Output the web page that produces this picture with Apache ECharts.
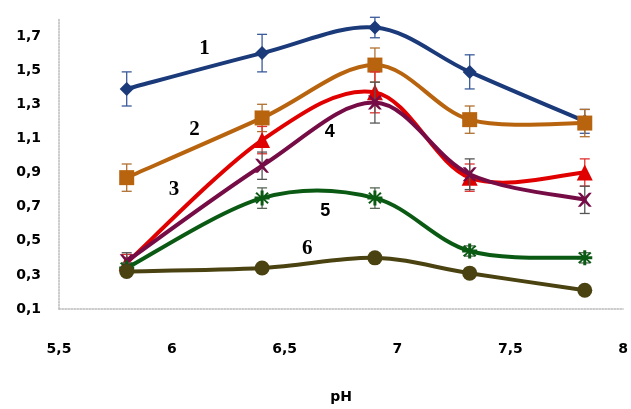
<!DOCTYPE html>
<html><head><meta charset="utf-8">
<script src="https://cdn.jsdelivr.net/npm/echarts@6/dist/echarts.min.js"></script>
<style>html,body{margin:0;padding:0;background:#fff}#c{width:631px;height:409px}</style>
</head><body><div id="c"></div>
<script>
const pH = [5.8, 6.4, 6.9, 7.32, 7.83];
const s1 = [1.39, 1.60, 1.75, 1.49, 1.20];
const s2 = [0.87, 1.22, 1.53, 1.21, 1.19];
const s3 = [0.37, 1.09, 1.37, 0.87, 0.90];
const s4 = [0.38, 0.94, 1.31, 0.89, 0.74];
const s5 = [0.34, 0.75, 0.75, 0.44, 0.40];
const s6 = [0.32, 0.34, 0.40, 0.31, 0.21];
const e1 = [0.10, 0.11, 0.06, 0.10, 0.07];
const e2 = [0.08, 0.08, 0.10, 0.08, 0.08];
const e3 = [0.05, 0.08, 0.12, 0.08, 0.08];
const e4 = [0.05, 0.08, 0.12, 0.09, 0.08];
const e5 = [0.03, 0.06, 0.06, 0.03, 0.03];
const e6 = [0.02, 0.02, 0.02, 0.02, 0.02];
const curveLabels = ['1','2','3','4','5','6'];
const labelPos = [[6.145,1.627],[6.10,1.15],[6.01,0.80],[6.70,1.14],[6.68,0.676],[6.60,0.457]];

const colors = ['#1B3A7A','#B8640F','#E00000','#760C46','#0B5A14','#4A4210'];
const barColors = ['#3A5A9A','#B07030','#E03030','#555555','#556655','#4A4210'];
const symbols = ['diamond','rect','triangle',
  'path://M0,0L2,0L5,3L8,0L10,0L6,5L10,10L8,10L5,7L2,10L0,10L4,5Z',
  'path://M4,0L6,0L6,3.5L8.5,1L9.5,2L7,4L10,4L10,6L7,6L9.5,8L8.5,9L6,6.5L6,10L4,10L4,6.5L1.5,9L0.5,8L3,6L0,6L0,4L3,4L0.5,2L1.5,1L4,3.5Z',
  'circle'];
const symSizes = [14, 15, 16, 14, 15, 15];
const vals = [s1,s2,s3,s4,s5,s6];
const errs = [e1,e2,e3,e4,e5,e6];

const series = [];
vals.forEach((v, i) => {
  series.push({
    type: 'custom',
    z: 2 + i * 3,
    silent: true,
    data: pH.slice(0, -1).map((x, k) => [x, v[k], pH[k + 1], v[k + 1]]),
    renderItem: function (params, api) {
      const k = params.dataIndex, n = pH.length;
      const P = j => api.coord([pH[j], v[j]]);
      const p0 = P(Math.max(k - 1, 0)), p1 = P(k), p2 = P(k + 1), p3 = P(Math.min(k + 2, n - 1));
      const t = 1 / 6;
      return {
        type: 'bezierCurve',
        shape: {
          x1: p1[0], y1: p1[1], x2: p2[0], y2: p2[1],
          cpx1: p1[0] + (p2[0] - p0[0]) * t, cpy1: p1[1] + (p2[1] - p0[1]) * t,
          cpx2: p2[0] - (p3[0] - p1[0]) * t, cpy2: p2[1] - (p3[1] - p1[1]) * t
        },
        style: { stroke: colors[i], lineWidth: 4, fill: null, lineCap: 'round' }
      };
    }
  });
  series.push({
    type: 'custom',
    z: 3 + i * 3,
    silent: true,
    data: pH.map((x, k) => [x, v[k], errs[i][k]]),
    renderItem: function (params, api) {
      const x = api.value(0), y = api.value(1), e = api.value(2);
      const hi = api.coord([x, y + e]);
      const lo = api.coord([x, y - e]);
      const cw = 5;
      const st = { stroke: barColors[i], lineWidth: 1.3 };
      return { type: 'group', children: [
        { type: 'line', shape: { x1: hi[0], y1: hi[1], x2: lo[0], y2: lo[1] }, style: st },
        { type: 'line', shape: { x1: hi[0]-cw, y1: hi[1], x2: hi[0]+cw, y2: hi[1] }, style: st },
        { type: 'line', shape: { x1: lo[0]-cw, y1: lo[1], x2: lo[0]+cw, y2: lo[1] }, style: st }
      ]};
    }
  });
  series.push({
    type: 'scatter',
    z: 4 + i * 3,
    data: pH.map((x, k) => [x, v[k]]),
    symbol: symbols[i],
    symbolSize: symSizes[i],
    itemStyle: { color: colors[i], opacity: 1 },
    animation: false
  });
});

const chart = echarts.init(document.getElementById('c'));
const labelFont = { fontWeight: 'bold', fontSize: 14, color: '#000', fontFamily: 'DejaVu Sans' };
chart.setOption({
  animation: false,
  grid: { left: 59, right: 6, top: 19, bottom: 83 },
  xAxis: {
    type: 'value', min: 5.5, max: 8, interval: 0.5,
    name: 'pH', nameLocation: 'middle', nameGap: 81,
    nameTextStyle: { fontWeight: 'bold', fontSize: 14, color: '#000', fontFamily: 'DejaVu Sans' },
    axisLine: { lineStyle: { color: '#BBBBBB', type: 'dotted', width: 1.5 } },
    axisTick: { show: false },
    splitLine: { show: false },
    axisLabel: Object.assign({ margin: 33, formatter: v => String(v).replace('.', ',') }, labelFont)
  },
  yAxis: {
    type: 'value', min: 0.1, max: 1.8, interval: 0.2,
    axisLine: { show: true, lineStyle: { color: '#BBBBBB', type: 'dotted', width: 1.5 } },
    axisTick: { show: false },
    splitLine: { show: false },
    axisLabel: Object.assign({ margin: 18, showMaxLabel: false,
      formatter: v => (Math.abs(v - 1.8) < 1e-6 ? '' : v.toFixed(1).replace('.', ',')) }, labelFont)
  },
  series: series
});

const g = labelPos.map((p, i) => {
  const px = chart.convertToPixel({ gridIndex: 0 }, p);
  const serif = !(i === 3 || i === 4);
  return {
    type: 'text', x: px[0], y: px[1], z: 100,
    style: {
      text: curveLabels[i], fill: '#000', fontWeight: 'bold',
      fontSize: serif ? 21 : 18, fontFamily: serif ? 'Liberation Serif' : 'Liberation Sans',
      align: 'center', verticalAlign: 'middle'
    }
  };
});
chart.setOption({ graphic: g });
</script>
</body></html>
